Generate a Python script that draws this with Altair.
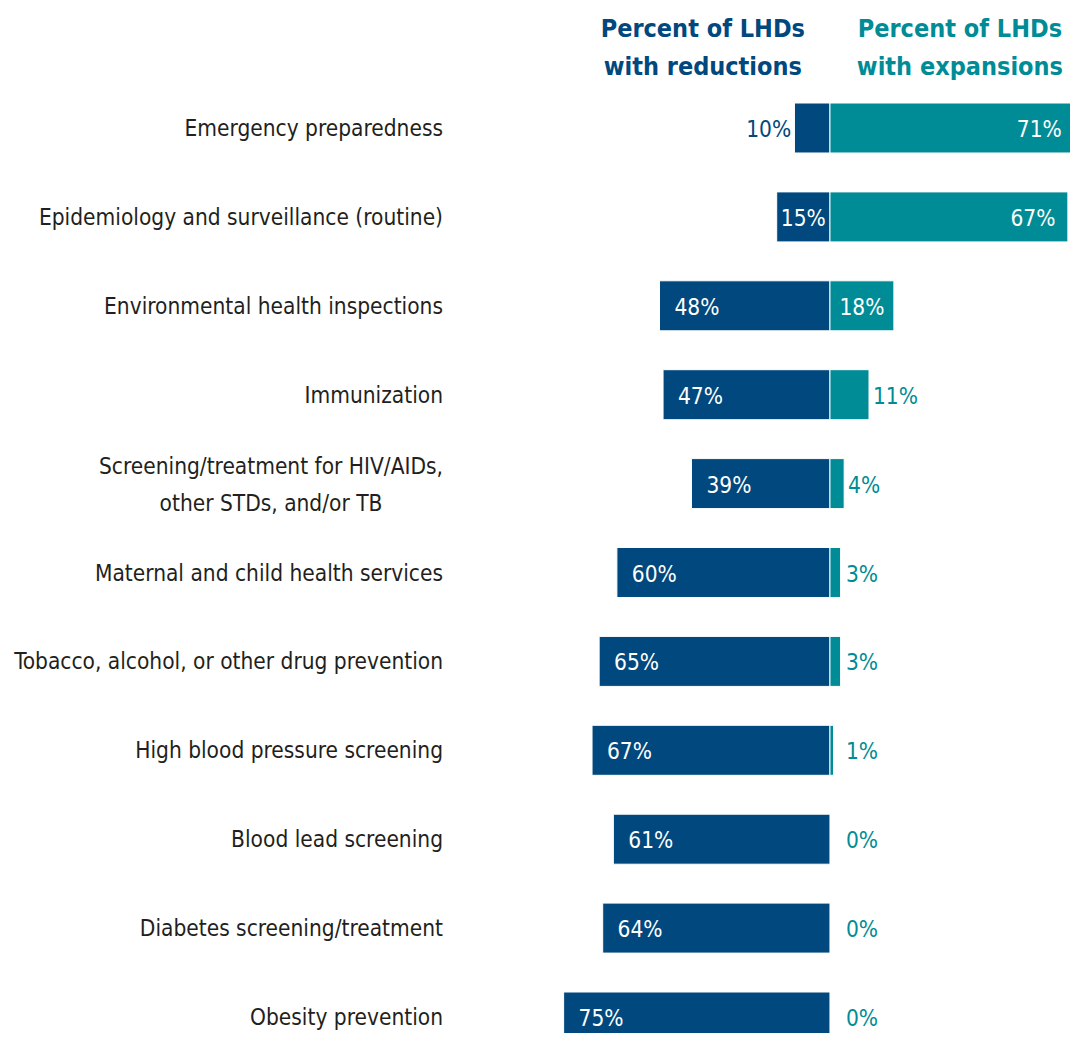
import altair as alt
import pandas as pd

categories = [
    "Emergency preparedness",
    "Epidemiology and surveillance (routine)",
    "Environmental health inspections",
    "Immunization ",
    "Screening/treatment for HIV/AIDs,|other STDs, and/or TB",
    "Maternal and child health services",
    "Tobacco, alcohol, or other drug prevention",
    "High blood pressure screening",
    "Blood lead screening",
    "Diabetes screening/treatment",
    "Obesity prevention",
]
reductions = [10, 15, 48, 47, 39, 60, 65, 67, 61, 64, 75]
expansions = [71, 67, 18, 11, 4, 3, 3, 1, 0, 0, 0]

header_text = [["Percent of LHDs", "with reductions"], ["Percent of LHDs", "with expansions"]]
header_pos = [-35.8, 36.6]

DARK = "#00487E"
TEAL = "#008C96"
INK = "#231F20"
FONT = "DejaVu Sans Condensed"
FS = 22.5

df = pd.DataFrame({"category": categories, "reduction": reductions, "expansion": expansions})
hdr = pd.DataFrame({"x": header_pos, "text": header_text, "color": [DARK, TEAL]})

xscale = alt.Scale(domain=[-107, 67.6], nice=False, zero=False)
yscale = alt.Scale(paddingInner=0.4376, paddingOuter=0, range=[0, 939])
yenc = alt.Y("category:N", sort=categories, scale=yscale, axis=None)

base = alt.Chart(df).transform_calculate(
    neg="-datum.reduction", zero="0",
    rlab="datum.reduction + '%'", elab="datum.expansion + '%'",
)

left_bars = base.mark_bar(color=DARK, stroke="white", strokeWidth=1, clip=True).encode(
    x=alt.X("neg:Q", scale=xscale, axis=None), x2="zero:Q", y=yenc,
)
right_bars = base.transform_filter("datum.expansion > 0").mark_bar(
    color=TEAL, stroke="white", strokeWidth=1, clip=True
).encode(
    x=alt.X("zero:Q", scale=xscale, axis=None), x2="expansion:Q", y=yenc,
)

txt = dict(font=FONT, fontSize=FS, baseline="middle", dy=2)

def lab(filt, xexpr, align, color, field):
    return base.transform_filter(filt).transform_calculate(lx=xexpr).mark_text(
        align=align, color=color, **txt
    ).encode(x=alt.X("lx:Q", scale=xscale, axis=None), y=yenc, text=f"{field}:N")

left_in = lab("datum.reduction >= 25", "-datum.reduction + 4.2", "left", "white", "rlab")
left_mid = lab("datum.reduction >= 12 && datum.reduction < 25", "-datum.reduction / 2", "center", "white", "rlab")
left_out = lab("datum.reduction < 12", "-datum.reduction - 0.9", "right", DARK, "rlab")
right_in = lab("datum.expansion >= 25", "min(datum.expansion - 3.5, 65.3)", "right", "white", "elab")
right_mid = lab("datum.expansion >= 15 && datum.expansion < 25", "datum.expansion / 2", "center", "white", "elab")
right_out = lab("datum.expansion < 15", "max(datum.expansion + 1.1, 4.5)", "left", TEAL, "elab")

cat_base = alt.Chart(df).transform_calculate(lines="split(datum.category, '|')")
cat_style = dict(font=FONT, fontSize=FS, baseline="middle", lineHeight=37, color=INK)

cat_single = cat_base.transform_filter("indexof(datum.category, '|') < 0").mark_text(
    dy=1, align="right", **cat_style
).encode(x=alt.value(-7), y=yenc, text="lines:N")

cat_multi = cat_base.transform_filter("indexof(datum.category, '|') >= 0").mark_text(
    dy=-17, align="center", **cat_style
).encode(x=alt.value(-179), y=yenc, text="lines:N")

headers = alt.Chart(hdr).mark_text(
    font=FONT, fontSize=25, fontWeight="bold", align="center",
    baseline="alphabetic", lineHeight=38,
).encode(
    x=alt.X("x:Q", scale=xscale, axis=None),
    y=alt.value(-66),
    text="text",
    color=alt.Color("color:N", scale=None, legend=None),
)

chart = alt.layer(
    left_bars, right_bars, left_in, left_mid, left_out,
    right_in, right_mid, right_out, cat_single, cat_multi, headers,
).properties(
    width=620, height=930,
    background="white",
    autosize=alt.AutoSizeParams(type="none"),
    padding={"left": 442, "top": 95, "right": 0, "bottom": 0},
).configure_view(stroke=None)

chart.save("out.html", embed_options={"renderer": "svg", "actions": False})
